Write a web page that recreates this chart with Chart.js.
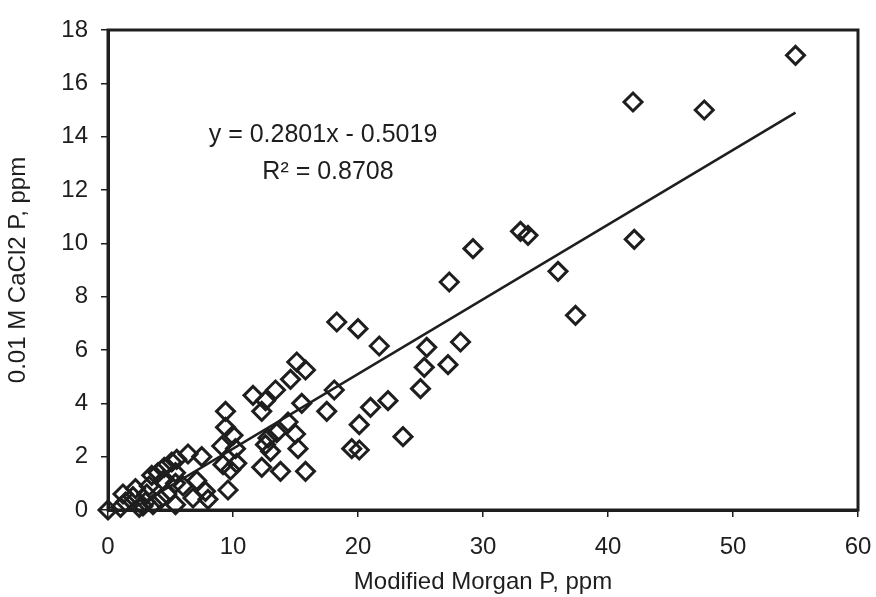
<!DOCTYPE html>
<html>
<head>
<meta charset="utf-8">
<script src="https://cdn.jsdelivr.net/npm/chart.js@4"></script>
<style>
  html, body { margin: 0; padding: 0; background: #fff; }
  #wrap { width: 876px; height: 597px; position: relative; }
</style>
</head>
<body>
<div id="wrap"><canvas id="c" width="876" height="597"></canvas></div>
<script>
// Modified Morgan P (x) vs 0.01 M CaCl2 P (y)
const morganP = [
  0, 1.0, 1.4, 1.2, 2.0, 2.5, 2.2, 2.8, 3.0, 3.1, 3.3, 3.6, 3.5, 4.0, 4.2, 4.4, 4.5, 4.7,
  5.1, 5.4, 5.4, 5.4, 5.5, 6.0, 6.4, 6.8, 7.1, 7.5, 7.8, 8.0,
  9.1, 9.4, 9.4, 10.0, 10.2, 9.2, 9.8, 9.6, 10.3, 11.6, 12.3, 12.6, 12.3, 12.6, 12.8, 13.0,
  13.5, 13.4, 13.8, 14.4, 14.6, 15.0, 15.2, 15.1, 15.5, 15.8, 15.8,
  17.5, 18.1, 18.3, 19.5, 20.1, 20.1, 20.0, 21.0, 21.7, 22.4, 23.6, 25.0, 25.3, 25.5,
  27.2, 27.3, 28.2, 29.2, 33.0, 33.6, 36.0, 37.4, 42.0, 42.1, 47.7, 55.0
];
const cacl2P = [
  0, 0.1, 0.3, 0.6, 0.5, 0.1, 0.8, 0.15, 0.3, 0.6, 0.9, 0.2, 1.3, 1.4, 0.4, 1.1, 1.6, 0.6,
  1.8, 1.0, 0.2, 1.4, 1.9, 0.9, 2.1, 0.45, 1.1, 2.0, 0.7, 0.4,
  2.4, 3.1, 3.7, 2.8, 2.3, 1.7, 1.5, 0.75, 1.75, 4.3, 3.7, 4.1, 1.6, 2.45, 2.7, 2.2,
  2.9, 4.5, 1.45, 3.3, 4.9, 2.85, 2.3, 5.55, 4.0, 5.25, 1.45,
  3.7, 4.5, 7.05, 2.3, 2.25, 3.2, 6.8, 3.85, 6.15, 4.1, 2.75, 4.55, 5.35, 6.1,
  5.45, 8.55, 6.3, 9.8, 10.45, 10.3, 8.95, 7.3, 15.3, 10.15, 15.0, 17.05
];

// linear trendline shown on the chart
const slope = 0.2801;
const intercept = -0.5019;
const trendX = [0, 55];

const xTicks = [0, 10, 20, 30, 40, 50, 60];
const yTicks = [0, 2, 4, 6, 8, 10, 12, 14, 16, 18];

const ink = '#1e1e1e';
const font = "'Liberation Sans', Arial, sans-serif";

const points = morganP.map((x, i) => ({ x, y: cacl2P[i] }));
const trend = trendX.map(x => ({ x, y: slope * x + intercept }));

// frame around the plot area plus the equation text
const framePlugin = {
  id: 'frame',
  afterDraw(chart) {
    const { ctx, chartArea: a } = chart;
    ctx.save();
    ctx.strokeStyle = ink;
    ctx.lineWidth = 3;
    ctx.strokeRect(a.left, a.top, a.right - a.left, a.bottom - a.top);
    ctx.fillStyle = ink;
    ctx.font = '25px ' + font;
    ctx.textAlign = 'center';
    ctx.textBaseline = 'middle';
    ctx.fillText('y = ' + slope.toFixed(4) + 'x - ' + Math.abs(intercept).toFixed(4), 323, 135);
    ctx.fillText('R\u00B2 = 0.8708', 328, 172);
    ctx.restore();
  }
};

new Chart(document.getElementById('c'), {
  type: 'scatter',
  data: {
    datasets: [
      {
        label: 'samples',
        data: points,
        pointStyle: 'rectRot',
        pointRadius: 9,
        pointHoverRadius: 9,
        borderWidth: 3,
        pointBorderWidth: 3,
        borderColor: ink,
        backgroundColor: 'rgba(0,0,0,0)',
        clip: false,
        order: 2
      },
      {
        label: 'trend',
        type: 'line',
        data: trend,
        showLine: true,
        borderColor: ink,
        borderWidth: 2.5,
        pointRadius: 0,
        fill: false,
        clip: 0,
        order: 1
      }
    ]
  },
  options: {
    responsive: false,
    animation: false,
    events: [],
    layout: { padding: { left: 0, right: 18, top: 30, bottom: 0 } },
    plugins: { legend: { display: false }, tooltip: { enabled: false } },
    scales: {
      x: {
        type: 'linear',
        min: 0,
        max: 60,
        afterBuildTicks: s => { s.ticks = xTicks.map(v => ({ value: v })); },
        ticks: { color: ink, font: { family: font, size: 24 }, padding: 16, maxRotation: 0 },
        grid: { drawOnChartArea: false, drawTicks: true, tickLength: 7, color: ink, lineWidth: 1.5 },
        border: { display: true, color: ink, width: 3 },
        title: {
          display: true,
          text: 'Modified Morgan P, ppm',
          color: ink,
          font: { family: font, size: 24 },
          padding: { top: 4, bottom: 0 }
        },
        afterFit: s => { s.height = 87; s.paddingLeft = 0; s.paddingRight = 0; }
      },
      y: {
        type: 'linear',
        min: 0,
        max: 18,
        afterBuildTicks: s => { s.ticks = yTicks.map(v => ({ value: v })); },
        ticks: { color: ink, font: { family: font, size: 24 }, padding: 13 },
        grid: { drawOnChartArea: false, drawTicks: true, tickLength: 7, color: ink, lineWidth: 1.5 },
        border: { display: true, color: ink, width: 3 },
        title: {
          display: true,
          text: '0.01 M CaCl2 P, ppm',
          color: ink,
          font: { family: font, size: 24 },
          padding: { top: 4, bottom: 0 }
        },
        afterFit: s => { s.width = 108; s.paddingTop = 0; s.paddingBottom = 0; }
      }
    }
  },
  plugins: [framePlugin]
});
</script>
</body>
</html>
